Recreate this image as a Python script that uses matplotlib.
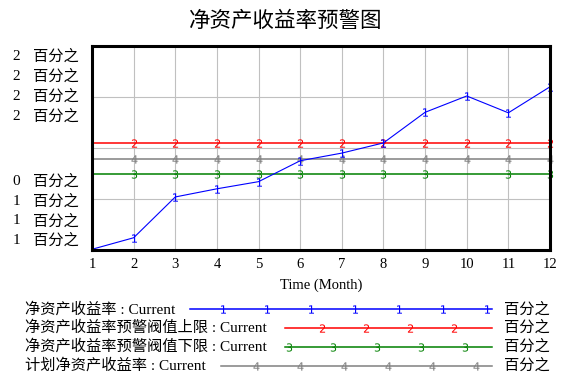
import matplotlib
matplotlib.use('Agg')
import matplotlib.pyplot as plt
import numpy as np

# data (y scale 0..20, percent)
months = [1, 2, 3, 4, 5, 6, 7, 8, 9, 10, 11, 12]
roe = [0.07, 1.2, 5.2, 6.0, 6.7, 8.75, 9.5, 10.5, 13.5, 15.1, 13.45, 16.0]
upper = [10.45, 10.45, 10.45, 10.45, 10.45, 10.45, 10.45, 10.45, 10.45, 10.45, 10.45, 10.45]
lower = [7.5, 7.5, 7.5, 7.5, 7.5, 7.5, 7.5, 7.5, 7.5, 7.5, 7.5, 7.5]
plan = [8.95, 8.95, 8.95, 8.95, 8.95, 8.95, 8.95, 8.95, 8.95, 8.95, 8.95, 8.95]

legend_labels = ['净资产收益率 : Current', '净资产收益率预警阀值上限 : Current',
                 '净资产收益率预警阀值下限 : Current', '计划净资产收益率 : Current']
axis_digits = ['2', '2', '2', '2', '0', '1', '1', '1']
unit = '百分之'
title = '净资产收益率预警图'

mixed = ['Liberation Serif', 'Noto Sans CJK SC']
cjk = ['Noto Sans CJK SC', 'DejaVu Sans']

W, H = 576, 384
fig = plt.figure(figsize=(W / 100, H / 100), dpi=100)

ax = fig.add_axes([92 / W, 1 - 250 / H, (550 - 92) / W, (250 - 46) / H])
ax.set_xlim(1, 12)
ax.set_ylim(0, 20)
ax.set_xticks(months)
ax.set_xticklabels([str(m) for m in months], family='Liberation Serif', fontsize=10.5)
ax.set_yticks([5, 10, 15])
ax.set_yticklabels([])
ax.tick_params(axis='both', length=0, pad=6)
ax.grid(True, color='#c0c0c0', lw=0.8)
ax.set_axisbelow(True)
for s in ax.spines.values():
    s.set_linewidth(2.2)
    s.set_color('black')
ax.set_xlabel('Time (Month)', family='Liberation Serif', fontsize=10.5, labelpad=5)

mk = dict(markersize=6, markeredgewidth=0, clip_on=False)
ax.plot(months, lower, color='#008000', lw=1.1, marker='$3$', markevery=[1, 2, 3, 4, 5, 6, 7, 8, 10, 11], **mk)
ax.plot(months, plan, color='#808080', lw=1.1, marker='$4$', markevery=list(range(1, 12)), **mk)
ax.plot(months, upper, color='#ff0000', lw=1.1, marker='$2$', markevery=list(range(1, 12)), **mk)
ax.plot(months, roe, color='#0000ff', lw=0.8, marker='$1$', markevery=list(range(1, 12)), **mk)

# overlay in pixel units for title, axis labels, legend
lax = fig.add_axes([0, 0, 1, 1])
lax.set_xlim(0, W)
lax.set_ylim(H, 0)
lax.axis('off')
lax.patch.set_visible(False)

lax.text(285.5, 21, title, family=cjk, fontsize=15.5, ha='center', va='center')

label_y = [56, 76, 96, 116, 181.5, 201.5, 221, 240]
for d, yy in zip(axis_digits, label_y):
    lax.text(16, yy, d, family='Liberation Serif', fontsize=11, ha='center', va='center')
    lax.text(33, yy, unit, family=cjk, fontsize=11, ha='left', va='center')

row_y = [309, 327.5, 346.5, 365.5]
colors = ['#0000ff', '#ff0000', '#008000', '#808080']
starts = [190, 285, 285, 221]
marks = ['$1$', '$2$', '$3$', '$4$']
mark_pos = [np.arange(223, 490, 44), np.arange(322, 460, 44),
            np.arange(289, 470, 44), np.arange(256, 480, 44)]
for lab, yy, c, x0, m, mp in zip(legend_labels, row_y, colors, starts, marks, mark_pos):
    lax.text(25, yy, lab, family=mixed, fontsize=11, ha='left', va='center')
    lax.plot([x0, 492], [yy, yy], color=c, lw=1.1)
    lax.plot(mp, [yy] * len(mp), ls='none', marker=m, color=c, markersize=6, markeredgewidth=0)
    lax.text(504, yy, unit, family=cjk, fontsize=11, ha='left', va='center')

fig.savefig('out.png', dpi=100)
